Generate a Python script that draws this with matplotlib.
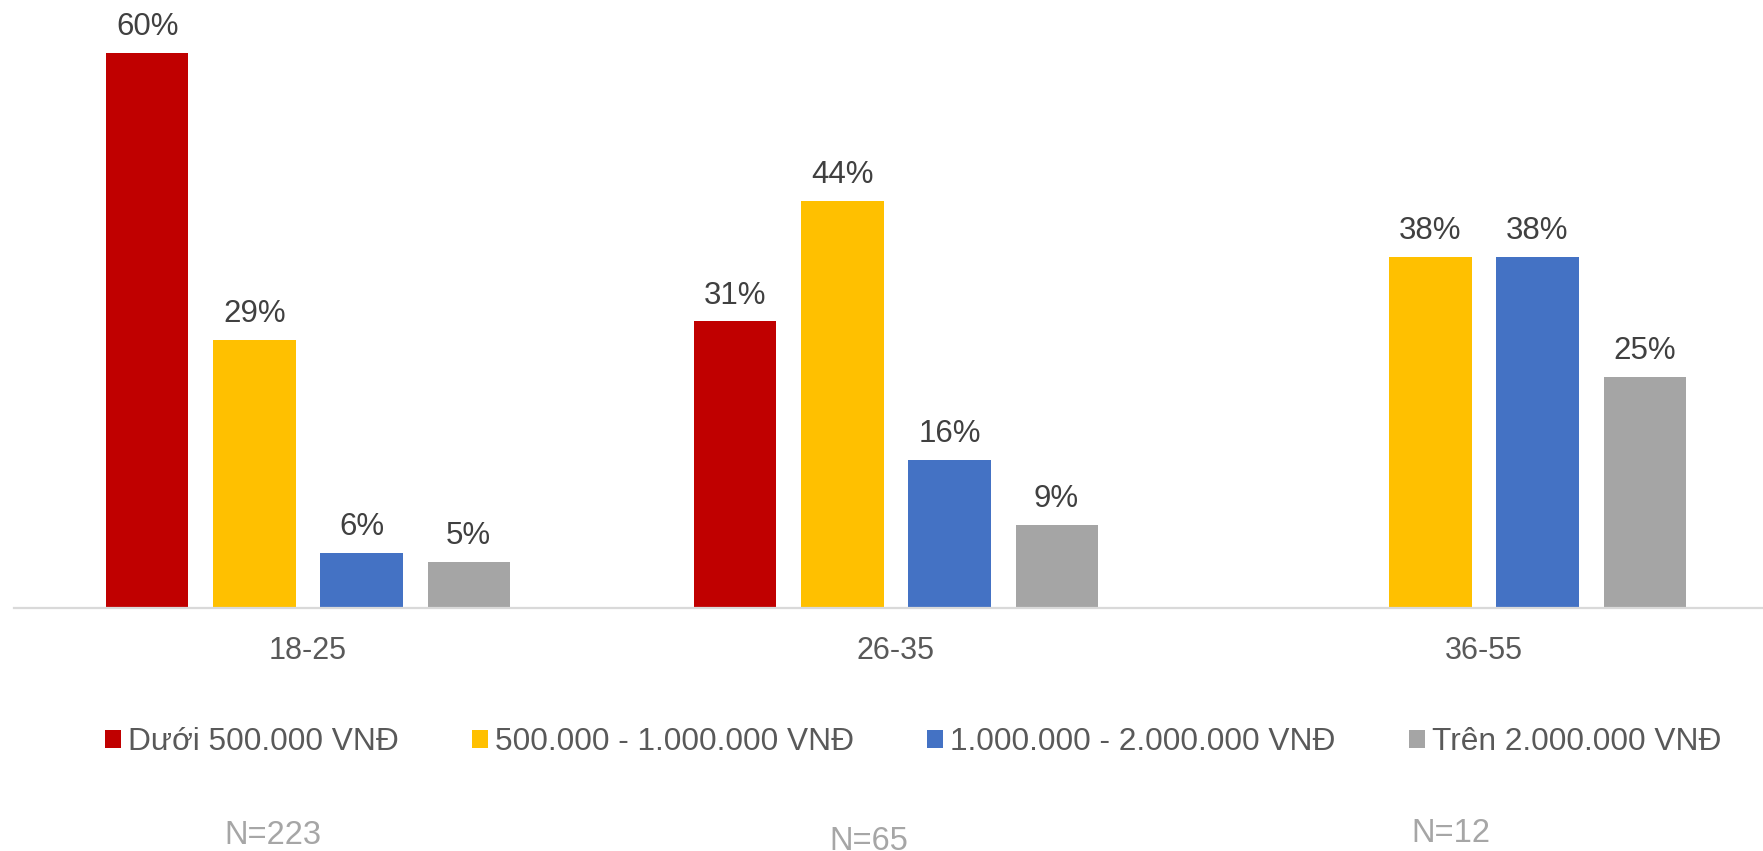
import matplotlib
matplotlib.use("Agg")
import matplotlib.pyplot as plt
import numpy as np

plt.rcParams['font.family'] = ['Liberation Sans', 'DejaVu Sans']

categories = ["18-25", "26-35", "36-55"]
series_names = ["Dưới 500.000 VNĐ", "500.000 - 1.000.000 VNĐ",
                "1.000.000 - 2.000.000 VNĐ", "Trên 2.000.000 VNĐ"]
values = {
    "Dưới 500.000 VNĐ": [60, 31, 0],
    "500.000 - 1.000.000 VNĐ": [29, 44, 38],
    "1.000.000 - 2.000.000 VNĐ": [6, 16, 38],
    "Trên 2.000.000 VNĐ": [5, 9, 25],
}
colors = ["#C00000", "#FFC000", "#4472C4", "#A5A5A5"]
n_labels = ["N=223", "N=65", "N=12"]

W, H = 1763, 851
fig = plt.figure(figsize=(W / 100, H / 100), dpi=100)
ax = fig.add_axes([14 / W, (H - 608) / H, 1 - 14 / W, 608 / H])

x = np.arange(len(categories))
pitch = 0.182
width = 0.1395
bars = []
for i, name in enumerate(series_names):
    pos = x + (i - 1.5) * pitch
    b = ax.bar(pos, values[name], width=width, color=colors[i], label=name, zorder=2)
    bars.append(b)
    for xp, v in zip(pos, values[name]):
        if v > 0:
            ax.annotate(f"{v}%", (xp, v), xytext=(0, 18.5), textcoords="offset points",
                        ha="center", va="center", fontsize=22.5, color="#404040")

ax.set_xlim(-0.5, -0.5 + (W - 14) / 588)
ax.set_ylim(0, 608 / 9.25)
for s in ["top", "right", "left"]:
    ax.spines[s].set_visible(False)
ax.spines["bottom"].set_color("#D9D9D9")
ax.spines["bottom"].set_linewidth(1.6)
ax.set_yticks([])
ax.set_xticks(x)
ax.set_xticklabels(categories, fontsize=22, color="#595959")
ax.tick_params(axis="x", length=0, pad=20.5)

leg = fig.legend(handles=bars, labels=series_names, loc="center",
                 bbox_to_anchor=(913 / W, 1 - 742 / H), ncol=4, frameon=False,
                 fontsize=22.8, handlelength=0.52, handleheight=0.52,
                 handletextpad=0.22, columnspacing=2.3, borderaxespad=0)
for t in leg.get_texts():
    t.set_color("#595959")

n_x = [273, 869, 1451]
n_y = [836, 842, 834]
for lab, xp, yp in zip(n_labels, n_x, n_y):
    fig.text(xp / W, 1 - yp / H, lab, ha="center", va="center", fontsize=23.5, color="#A6A6A6")

fig.savefig("out.png", dpi=100)
